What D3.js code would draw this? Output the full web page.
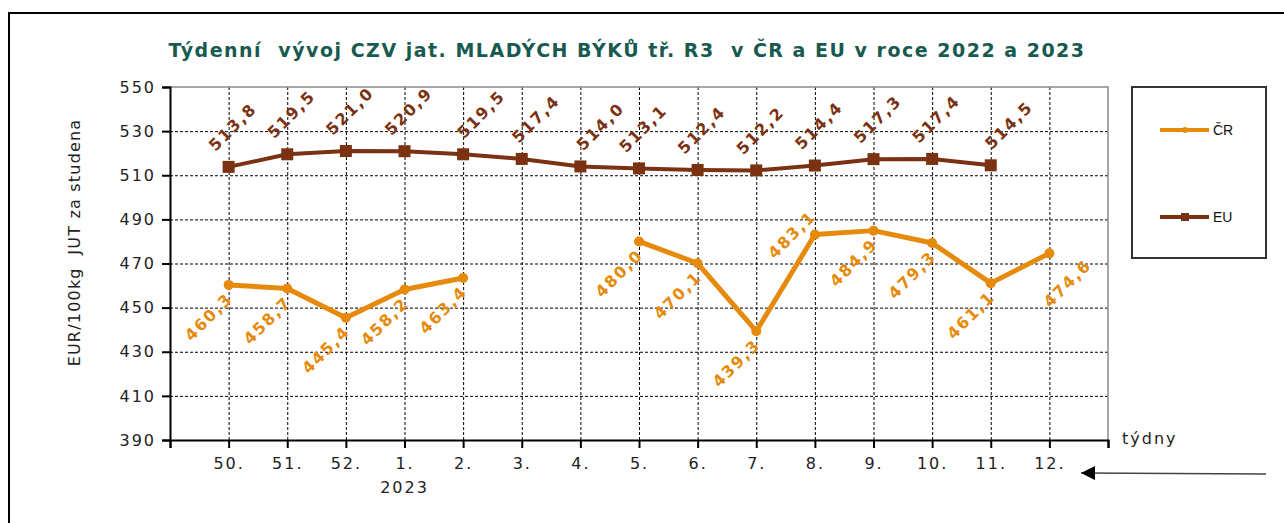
<!DOCTYPE html>
<head>
    <meta charset="utf-8">
    <script src="https://d3js.org/d3.v7.min.js"></script>
    <style>
    body { margin: 0; background: #fff; }
    .gridlines line { stroke: #000; stroke-dasharray: 3,2; }
    .gridlines .domain { stroke: none; }
    .axis text { font-family: "DejaVu Sans", sans-serif; font-size: 16px; fill: #222; letter-spacing: 2px; }
    .axis line, .axis path { stroke: #000; stroke-width: 2px; }
    </style>
</head>
<body>
<svg id="chart" width="1284" height="523"></svg>
<script>
// weeks 50/2022 .. 12/2023
const weeks = ['50.', '51.', '52.', '1.', '2.', '3.', '4.', '5.', '6.', '7.', '8.', '9.', '10.', '11.', '12.'];
const crValues = [460.3, 458.7, 445.4, 458.2, 463.4, null, null, 480.0, 470.1, 439.3, 483.1, 484.9, 479.3, 461.1, 474.6];
const euValues = [513.8, 519.5, 521.0, 520.9, 519.5, 517.4, 514.0, 513.1, 512.4, 512.2, 514.4, 517.3, 517.4, 514.5, null];
const yTicks = [390, 410, 430, 450, 470, 490, 510, 530, 550];

const svg = d3.select('svg#chart');
const plot = {left: 170, right: 1108, top: 87, bottom: 440};

const fmt = v => d3.format('.1f')(v).replace('.', ',');

// frame around everything
svg.append('path')
    .attr('d', 'M9,523 V13 H1284')
    .attr('fill', 'none').attr('stroke', '#000').attr('stroke-width', 2);

svg.append('text')
    .attr('x', 627).attr('y', 57)
    .attr('text-anchor', 'middle')
    .style('font-family', '"DejaVu Sans", sans-serif')
    .style('font-weight', 'bold').style('font-size', '19px')
    .style('letter-spacing', '1.5px')
    .style('fill', '#185a50')
    .attr('xml:space', 'preserve')
    .text('Týdenní  vývoj CZV jat. MLADÝCH BÝKŮ tř. R3  v ČR a EU v roce 2022 a 2023');

const x = d3.scaleLinear().domain([0, weeks.length + 1]).range([plot.left, plot.right]);
const y = d3.scaleLinear().domain([390, 550]).range([plot.bottom, plot.top]);
const pos = i => x(i + 1);

// gridlines
svg.append('g').attr('class', 'gridlines')
    .attr('transform', `translate(${plot.left},0)`)
    .call(d3.axisLeft(y).tickValues(yTicks.slice(1, -1)).tickSize(-(plot.right - plot.left)).tickFormat(''));
svg.append('g').attr('class', 'gridlines')
    .attr('transform', `translate(0,${plot.bottom})`)
    .call(d3.axisBottom(x).tickValues(d3.range(1, weeks.length + 1)).tickSize(-(plot.bottom - plot.top)).tickFormat(''));

// top + right border
svg.append('path')
    .attr('d', `M${plot.left},${plot.top} H${plot.right} V${plot.bottom}`)
    .attr('fill', 'none').attr('stroke', '#8a8a8a').attr('stroke-width', 1.5);

let leftAxis = d3.axisLeft(y).tickValues(yTicks).tickSizeOuter(0).tickSize(8).tickPadding(6);
let gy = svg.append('g').attr('class', 'axis')
    .attr('transform', `translate(${plot.left},0)`);
leftAxis(gy);

let bottomAxis = d3.axisBottom(x).tickValues(d3.range(0, weeks.length + 2))
    .tickSizeOuter(0).tickSize(8).tickPadding(10)
    .tickFormat(i => weeks[i - 1] || '');
let gx = svg.append('g').attr('class', 'axis')
    .attr('transform', `translate(0,${plot.bottom})`);
bottomAxis(gx);

gx.append('text').attr('x', pos(3)).attr('y', 53).attr('text-anchor', 'middle').text('2023');
gx.append('text').attr('x', plot.right + 14).attr('y', 4).attr('text-anchor', 'start').text('týdny');

svg.append('text')
    .attr('transform', `translate(80,${(plot.top + plot.bottom) / 2 - 21}) rotate(-90)`)
    .attr('text-anchor', 'middle')
    .style('font-family', '"DejaVu Sans", sans-serif').style('font-size', '16px').style('fill', '#222')
    .style('letter-spacing', '1.2px')
    .attr('xml:space', 'preserve')
    .text('EUR/100kg  JUT za studena');

// arrow
svg.append('defs').append('marker')
    .attr('id', 'arr').attr('viewBox', '0 0 10 10').attr('refX', 0).attr('refY', 5)
    .attr('markerWidth', 14).attr('markerHeight', 14).attr('markerUnits', 'userSpaceOnUse')
    .attr('orient', 'auto')
    .append('path').attr('d', 'M0,5 L10,0 L10,10 Z').attr('fill', '#000');
svg.append('line')
    .attr('x1', 1081).attr('x2', 1266).attr('y1', 473).attr('y2', 474)
    .attr('stroke', '#444').attr('stroke-width', 1.5)
    .attr('marker-start', 'url(#arr)');

const series = [
    {name: 'ČR', values: crValues, color: '#e68a0b', width: 5, marker: 'circle',
     dx: -20, dy: 32, nudge: {10: [-3, -32], 14: [38, -2]}},
    {name: 'EU', values: euValues, color: '#7a3212', width: 4, marker: 'square',
     dx: 4, dy: -40, nudge: {4: [14, 0], 5: [10, 0], 6: [16, 0], 13: [14, 0]}}
];

series.forEach(s => {
    const g = svg.append('g');
    const line = d3.line()
        .defined(d => d != null)
        .x((d, i) => pos(i))
        .y(d => y(d));
    g.append('path').datum(s.values)
        .attr('d', line)
        .attr('fill', 'none').attr('stroke', s.color)
        .attr('stroke-width', s.width).attr('stroke-linejoin', 'round');

    s.values.forEach((v, i) => {
        if (v == null) return;
        if (s.marker === 'circle') {
            g.append('circle').attr('cx', pos(i)).attr('cy', y(v)).attr('r', 5).attr('fill', s.color);
        } else {
            g.append('rect').attr('x', pos(i) - 6).attr('y', y(v) - 6)
                .attr('width', 12).attr('height', 12).attr('fill', s.color);
        }
        const n = s.nudge[i] || [0, 0];
        g.append('text')
            .attr('transform', `translate(${pos(i) + s.dx + n[0]},${y(v) + s.dy + n[1]}) rotate(-45)`)
            .attr('text-anchor', 'middle').attr('dy', '0.35em')
            .style('font-family', '"DejaVu Sans", sans-serif')
            .style('font-weight', 'bold').style('font-size', '16px')
            .style('letter-spacing', '1.8px')
            .style('fill', s.color)
            .text(fmt(v));
    });
});

// legend
const legend = svg.append('g');
legend.append('rect')
    .attr('x', 1132).attr('y', 87).attr('width', 134).attr('height', 171)
    .attr('fill', '#fff').attr('stroke', '#333').attr('stroke-width', 2);
series.forEach((s, k) => {
    const ly = 130 + k * 87;
    legend.append('line').attr('x1', 1160).attr('x2', 1209).attr('y1', ly).attr('y2', ly)
        .attr('stroke', s.color).attr('stroke-width', 4);
    if (s.marker === 'circle') {
        legend.append('circle').attr('cx', 1185).attr('cy', ly).attr('r', 3).attr('fill', s.color);
    } else {
        legend.append('rect').attr('x', 1181).attr('y', ly - 4).attr('width', 8).attr('height', 8).attr('fill', s.color);
    }
    legend.append('text').attr('x', 1213).attr('y', ly + 5)
        .style('font-family', '"Liberation Sans", Arial, sans-serif').style('font-size', '14px').style('fill', '#111')
        .text(s.name);
});
</script>
</body>
